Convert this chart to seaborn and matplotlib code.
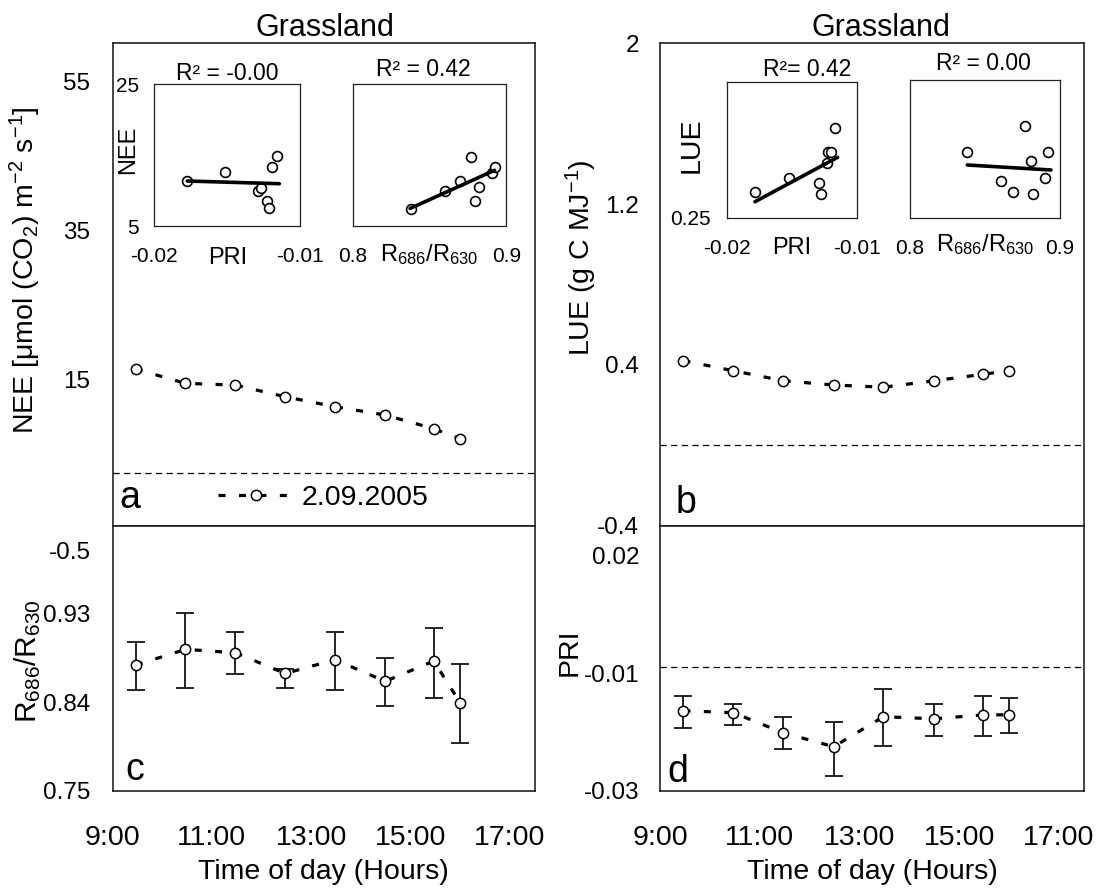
import numpy as np
import pandas as pd
import matplotlib
matplotlib.use("Agg")
import matplotlib.pyplot as plt
import seaborn as sns
from matplotlib.transforms import Bbox, TransformedBbox, blended_transform_factory

# ---------------- data ----------------
hours = [9.47, 10.47, 11.47, 12.48, 13.48, 14.49, 15.47, 16.0]
nee = [16.34, 14.42, 14.19, 12.62, 11.28, 10.17, 8.33, 6.95]
lue = [0.421, 0.371, 0.321, 0.300, 0.289, 0.321, 0.353, 0.371]
ratio = [0.8775, 0.8935, 0.890, 0.869, 0.883, 0.861, 0.8816, 0.8393]
ratio_lo = [0.852, 0.8545, 0.8684, 0.8545, 0.852, 0.836, 0.8444, 0.798]
ratio_hi = [0.901, 0.930, 0.911, 0.8735, 0.911, 0.885, 0.915, 0.8786]
pri = [-0.01637, -0.01671, -0.02012, -0.0225, -0.0174, -0.01774, -0.0171, -0.01705]
pri_lo = [-0.01927, -0.01886, -0.02295, -0.02745, -0.02233, -0.02063, -0.02063, -0.02022]
pri_hi = [-0.01387, -0.01523, -0.0175, -0.0183, -0.01273, -0.01523, -0.01387, -0.01416]

nee_ref = 2.4
lue_ref = 0.0
pri_ref = -0.0089

hour_ticks = [9, 11, 13, 15, 17]
hour_labels = ["9:00", "11:00", "13:00", "15:00", "17:00"]
nee_ticks = [15, 35, 55]
lue_ticks = [-0.4, 0.4, 1.2, 2.0]
lue_labels = ["-0.4", "0.4", "1.2", "2"]
ratio_ticks = [0.75, 0.84, 0.93]
pri_ticks = [-0.03, -0.01, 0.01015]
pri_labels = ["-0.03", "-0.01", "0.02"]
stray_c_value, stray_c_label = 0.9915, "-0.5"

# insets
in1_pri = [-0.01774, -0.01516, -0.01288, -0.01273, -0.01231, -0.01215, -0.01192, -0.01158]
in1_nee = [11.35, 12.58, 9.94, 10.3, 8.57, 7.5, 13.37, 14.84]
fit1_x = [-0.01774, -0.01144]
fit1_y = [11.35, 10.97]
in2_ratio = [0.8383, 0.8598, 0.8696, 0.8773, 0.8796, 0.8824, 0.8907, 0.8929]
in2_nee = [7.39, 9.95, 11.32, 14.73, 8.55, 10.52, 12.48, 13.32]
fit2_x = [0.8374, 0.8923]
fit2_y = [7.48, 12.86]
in3_pri = [-0.01781, -0.01519, -0.01288, -0.01273, -0.01227, -0.01217, -0.01196, -0.01165]
in3_lue = [0.2969, 0.3227, 0.3146, 0.2932, 0.3504, 0.3708, 0.3713, 0.4151]
fit3_x = [-0.01781, -0.01145]
fit3_y = [0.2795, 0.3615]
in4_ratio = [0.8382, 0.8605, 0.8689, 0.8767, 0.8807, 0.8822, 0.8900, 0.8922]
in4_lue = [0.3685, 0.3165, 0.2960, 0.4161, 0.3533, 0.2929, 0.3214, 0.3685]
fit4_x = [0.8382, 0.8940]
fit4_y = [0.3455, 0.3364]

# ---------------- style ----------------
sns.set_style("white")
plt.rcParams["font.family"] = ["Liberation Sans", "DejaVu Sans"]
plt.rcParams["mathtext.fontset"] = "custom"
plt.rcParams["mathtext.rm"] = "Liberation Sans"
plt.rcParams["mathtext.it"] = "Liberation Sans:italic"
plt.rcParams["mathtext.bf"] = "Liberation Sans:bold"
plt.rcParams["mathtext.default"] = "regular"
plt.rcParams["axes.unicode_minus"] = False
for key in ("text.color", "axes.labelcolor", "xtick.color", "ytick.color", "axes.edgecolor"):
    plt.rcParams[key] = "black"

W, H = 1102, 891
fig = plt.figure(figsize=(W / 100, H / 100), dpi=100)


def px_axes(x0, y0, x1, y1):
    return fig.add_axes([x0 / W, 1 - y1 / H, (x1 - x0) / W, (y1 - y0) / H])


ax_a = px_axes(112.5, 43.3, 534.6, 525.7)
ax_c = px_axes(112.5, 525.7, 534.6, 790.7)
ax_b = px_axes(660, 43.3, 1084, 525.7)
ax_d = px_axes(660, 525.7, 1084, 790.7)

df = pd.DataFrame({"hour": hours, "nee": nee, "lue": lue, "ratio": ratio, "pri": pri})

line_kw = dict(color="black", linewidth=2.3, linestyle=(0, (2.2, 4.2)),
               marker="o", markersize=7.4, markerfacecolor="white",
               markeredgecolor="black", markeredgewidth=1.1, errorbar=None)
err_kw = dict(fmt="none", ecolor="black", elinewidth=1.2, capsize=6.5, capthick=1.2, zorder=2)
ref_kw = dict(color="black", linewidth=0.9, linestyle=(0, (5, 3.5)), zorder=1)

sns.lineplot(data=df, x="hour", y="nee", ax=ax_a, label="2.09.2005", zorder=3, **line_kw)
sns.lineplot(data=df, x="hour", y="lue", ax=ax_b, zorder=3, **line_kw)
r = np.array(ratio)
ax_c.errorbar(hours, ratio, yerr=[r - np.array(ratio_lo), np.array(ratio_hi) - r], **err_kw)
sns.lineplot(data=df, x="hour", y="ratio", ax=ax_c, zorder=3, **line_kw)
p = np.array(pri)
ax_d.errorbar(hours, pri, yerr=[p - np.array(pri_lo), np.array(pri_hi) - p], **err_kw)
sns.lineplot(data=df, x="hour", y="pri", ax=ax_d, zorder=3, **line_kw)

ax_a.axhline(nee_ref, **ref_kw)
ax_b.axhline(lue_ref, **ref_kw)
ax_d.axhline(pri_ref, **ref_kw)

for ax in (ax_a, ax_b, ax_c, ax_d):
    ax.set_xlim(9, 17.5)
    ax.tick_params(axis="both", direction="in", length=6, width=0.9, color="#444")
    ax.tick_params(axis="y", labelsize=17.5, pad=16)
    for s in ax.spines.values():
        s.set_linewidth(1.1)
        s.set_color("#111")
    ax.set_xlabel("")
    ax.set_ylabel("")
    lg = ax.get_legend()
    if lg is not None and ax is not ax_a:
        lg.remove()

ax_b.tick_params(axis="y", pad=15)
ax_d.tick_params(axis="y", pad=15)

ax_a.set_ylim(-4.7, 60.1)
ax_a.set_yticks(nee_ticks)
ax_a.set_xticks([])
ax_b.set_ylim(-0.4, 2.0)
ax_b.set_yticks(lue_ticks)
ax_b.set_yticklabels(lue_labels)
ax_b.set_xticks([])
ax_c.set_ylim(0.75, 1.019)
ax_c.set_yticks(ratio_ticks)
ax_c.set_yticklabels([f"{v:.2f}" for v in ratio_ticks])
ax_d.set_ylim(-0.03, 0.01515)
ax_d.set_yticks(pri_ticks)
ax_d.set_yticklabels(pri_labels)
for ax in (ax_c, ax_d):
    ax.set_xticks(hour_ticks)
    ax.set_xticklabels(hour_labels)
    ax.tick_params(axis="x", labelsize=20.5, pad=25)
    ax.set_xlabel("Time of day (Hours)", fontsize=20.5, va="center")
    ax.xaxis.set_label_coords(0.5, -0.306)

trans_c = blended_transform_factory(ax_c.transAxes, ax_c.transData)
ax_c.text(-0.052, stray_c_value, stray_c_label, transform=trans_c,
          ha="right", va="center", fontsize=17.5)

ax_a.set_title("Grassland", fontsize=22, pad=4, x=0.5035)
ax_b.set_title("Grassland", fontsize=22, pad=4, x=0.522)

ax_a.set_ylabel("NEE [μmol (CO$_2$) m$^{-2}$ s$^{-1}$]", fontsize=20.5, va="center")
ax_a.yaxis.set_label_coords(-0.207, 0.53)
ax_b.set_ylabel("LUE (g C MJ$^{-1}$)", fontsize=20.5, va="center")
ax_b.yaxis.set_label_coords(-0.186, 0.555)
ax_c.set_ylabel("R$_{686}$/R$_{630}$", fontsize=21.5, va="center")
ax_c.yaxis.set_label_coords(-0.201, 0.49)
lab = ax_c.yaxis.label
lab.set_clip_on(True)
lab.set_clip_box(TransformedBbox(Bbox([[0, 0], [1, 1 - 602 / H]]), fig.transFigure))
ax_d.set_ylabel("PRI", fontsize=20.5, va="center")
ax_d.yaxis.set_label_coords(-0.212, 0.523)

ax_a.legend(loc="center left", bbox_to_anchor=(0.25, 0.057), frameon=False,
            fontsize=20.5, handlelength=2.7, handletextpad=0.25,
            borderpad=0, borderaxespad=0)

for ax, lbl, x, y in ((ax_a, "a", 0.017, 0.036), (ax_b, "b", 0.037, 0.026),
                      (ax_c, "c", 0.030, 0.040), (ax_d, "d", 0.0165, 0.034)):
    ax.text(x, y, lbl, transform=ax.transAxes, fontsize=27, ha="left", va="baseline")

# ---------------- insets ----------------
def make_inset(x0, y0, x1, y1, xs, ys, fx, fy, xlim, ylim, xticks, xticklabels,
               yticks, yticklabels, xlabel, xlab_y, ylabel, ylab_xy, ylab_size,
               title, title_x, title_pad):
    ax = px_axes(x0, y0, x1, y1)
    sns.scatterplot(x=xs, y=ys, ax=ax, s=50, facecolor="white", edgecolor="black",
                    linewidth=1.2, zorder=2)
    sns.lineplot(x=fx, y=fy, ax=ax, color="black", linewidth=2.6, zorder=3, errorbar=None)
    ax.set_xlim(*xlim)
    ax.set_ylim(*ylim)
    ax.set_xticks(xticks)
    ax.set_xticklabels(xticklabels)
    ax.set_yticks(yticks)
    ax.set_yticklabels(yticklabels)
    ax.tick_params(axis="x", length=0, labelsize=15, pad=15)
    ax.tick_params(axis="y", direction="out", length=5, width=0.8, labelsize=15, pad=6,
                   color="#333")
    for s in ax.spines.values():
        s.set_linewidth(0.9)
        s.set_color("#222")
    ax.set_xlabel(xlabel, fontsize=17, va="center")
    ax.xaxis.set_label_coords(0.5, xlab_y)
    if ylabel:
        ax.set_ylabel(ylabel, fontsize=ylab_size, va="center")
        ax.yaxis.set_label_coords(*ylab_xy)
    else:
        ax.set_ylabel("")
    ax.set_title(title, fontsize=16.5, x=title_x, pad=title_pad)
    return ax


ratio_lab = "R$_{686}$/R$_{630}$"
make_inset(154.3, 84.3, 300.4, 226, in1_pri, in1_nee, fit1_x, fit1_y,
           (-0.02, -0.01), (5, 25), [-0.02, -0.01], ["-0.02", "-0.01"],
           [5, 25], ["5", "25"], "PRI", -0.226, "NEE", (-0.18, 0.536), 17,
           "R² = -0.00", 0.5, 3)
make_inset(352.5, 84.3, 506.4, 226, in2_ratio, in2_nee, fit2_x, fit2_y,
           (0.8, 0.9), (5, 25), [0.8, 0.9], ["0.8", "0.9"],
           [], [], ratio_lab, -0.205, None, None, 17,
           "R² = 0.42", 0.458, 6)
make_inset(726.5, 82.3, 856.5, 217.7, in3_pri, in3_lue, fit3_x, fit3_y,
           (-0.02, -0.01), (0.25, 0.5), [-0.02, -0.01], ["-0.02", "-0.01"],
           [0.25], ["0.25"], "PRI", -0.226, "LUE", (-0.269, 0.537), 20.5,
           "R²= 0.42", 0.619, 4.3)
make_inset(910, 79.7, 1060, 217.7, in4_ratio, in4_lue, fit4_x, fit4_y,
           (0.8, 0.9), (0.25, 0.5), [0.8, 0.9], ["0.8", "0.9"],
           [], [], ratio_lab, -0.198, None, None, 17,
           "R² = 0.00", 0.49, 7)

fig.savefig("out.png", dpi=100)
